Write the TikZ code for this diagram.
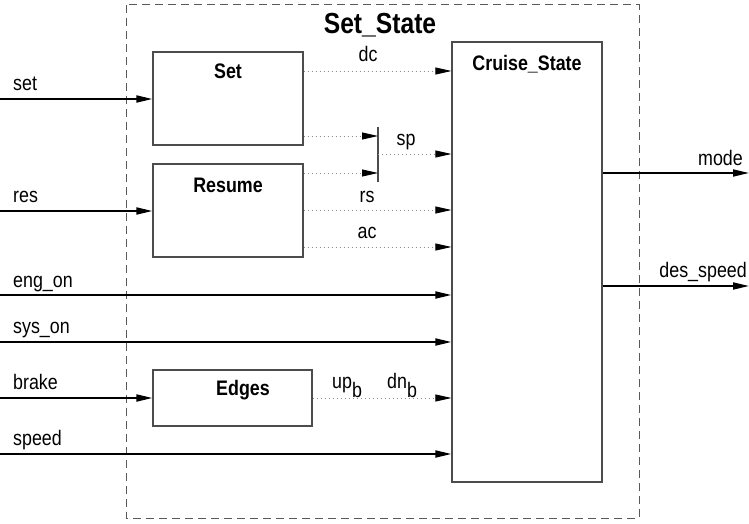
\documentclass[tikz,border=0pt]{standalone}
\usepackage{fontspec}
\setmainfont{Liberation Sans}[FakeStretch=0.85]
\usetikzlibrary{arrows.meta,positioning}

\tikzset{
  block/.style={draw=black!70, line width=1.2pt, fill=white, inner sep=0pt},
  blocktitle/.style={font=\fontsize{21}{24}\selectfont\bfseries, inner sep=0pt},
  title/.style={font=\fontsize{29}{32}\selectfont\bfseries, inner sep=0pt},
  signame/.style={font=\fontsize{21}{24}\selectfont, inner sep=0pt},
  tip/.style={-{Triangle[length=16pt,width=7pt,black]}},
  wire/.style={draw=black, line width=1.8pt, tip},
  local/.style={draw=black!45, line width=0.8pt, dash pattern=on 0.8pt off 3.2pt, tip},
  frame/.style={draw=black!65, line width=1pt, dash pattern=on 8pt off 5pt}
}

\begin{document}
\begin{tikzpicture}[x=1pt, y=-1pt]
\useasboundingbox (0,0) rectangle (749,524);

% subsystem frame
\draw[frame] (126,5) rectangle (639,518);
\node[title] (sstitle) at (380,25) {Set\_State};

% blocks
\node[block, minimum width=150pt, minimum height=93pt] (set) at (228,98.5) {};
\node[block, minimum width=150pt, minimum height=93pt] (resume) at (228,210.5) {};
\node[block, minimum width=159pt, minimum height=56pt] (edges) at (232.5,398) {};
\node[block, minimum width=150pt, minimum height=440pt] (cruise) at (527,262) {};

\node[blocktitle] (set-t) at ([yshift=-20pt]set.north) {Set};
\node[blocktitle] (resume-t) at ([yshift=-22pt]resume.north) {Resume};
\node[blocktitle] (edges-t) at (243,390) {Edges};
\node[blocktitle] (cruise-t) at ([yshift=-23pt]cruise.north) {Cruise\_State};

% inputs
\coordinate (in-set) at (0,99);
\coordinate (in-res) at (0,211);
\coordinate (in-eng) at (0,295);
\coordinate (in-sys) at (0,342);
\coordinate (in-brake) at (0,398);
\coordinate (in-speed) at (0,454);

\draw[wire] (in-set) -- (set.west |- in-set);
\draw[wire] (in-res) -- (resume.west |- in-res);
\draw[wire] (in-eng) -- (cruise.west |- in-eng);
\draw[wire] (in-sys) -- (cruise.west |- in-sys);
\draw[wire] (in-brake) -- (edges.west |- in-brake);
\draw[wire] (in-speed) -- (cruise.west |- in-speed);

\node[signame, anchor=base west] (l-set) at (13,91) {set};
\node[signame, anchor=base west] (l-res) at (13,202) {res};
\node[signame, anchor=base west] (l-eng) at (13,287) {eng\_on};
\node[signame, anchor=base west] (l-sys) at (13,333) {sys\_on};
\node[signame, anchor=base west] (l-brake) at (13,389) {brake};
\node[signame, anchor=base west] (l-speed) at (13,445) {speed};

% internal signals
\coordinate (bus-top) at (378,127);
\coordinate (bus-bot) at (378,182);
\draw[draw=black!70, line width=1.2pt] (bus-top) -- (bus-bot);

\draw[local] (set.east |- 0,71) -- (cruise.west |- 0,71);
\draw[local] (set.east |- 0,136) -- (bus-top |- 0,136);
\draw[local] (resume.east |- 0,173) -- (bus-top |- 0,173);
\draw[local] (bus-top |- 0,154) -- (cruise.west |- 0,154);
\draw[local] (resume.east |- 0,210) -- (cruise.west |- 0,210);
\draw[local] (resume.east |- 0,247) -- (cruise.west |- 0,247);
\draw[local] (edges.east |- 0,398) -- (cruise.west |- 0,398);

\node[signame, anchor=base] (l-dc) at (368,62) {dc};
\node[signame, anchor=base] (l-sp) at (406,145) {sp};
\node[signame, anchor=base] (l-rs) at (367,202) {rs};
\node[signame, anchor=base] (l-ac) at (367,238) {ac};
\node[signame, anchor=base west] (l-up) at (332,388) {up\raisebox{-9pt}{b}};
\node[signame, anchor=base west] (l-dn) at (387,388) {dn\raisebox{-9pt}{b}};

% outputs
\coordinate (out-mode) at (749,173);
\coordinate (out-speed) at (749,286);
\draw[wire] (cruise.east |- out-mode) -- (out-mode);
\draw[wire] (cruise.east |- out-speed) -- (out-speed);

\node[signame, anchor=base east] (l-mode) at (743,165) {mode};
\node[signame, anchor=base east] (l-des) at (747,277) {des\_speed};
\end{tikzpicture}
\end{document}
